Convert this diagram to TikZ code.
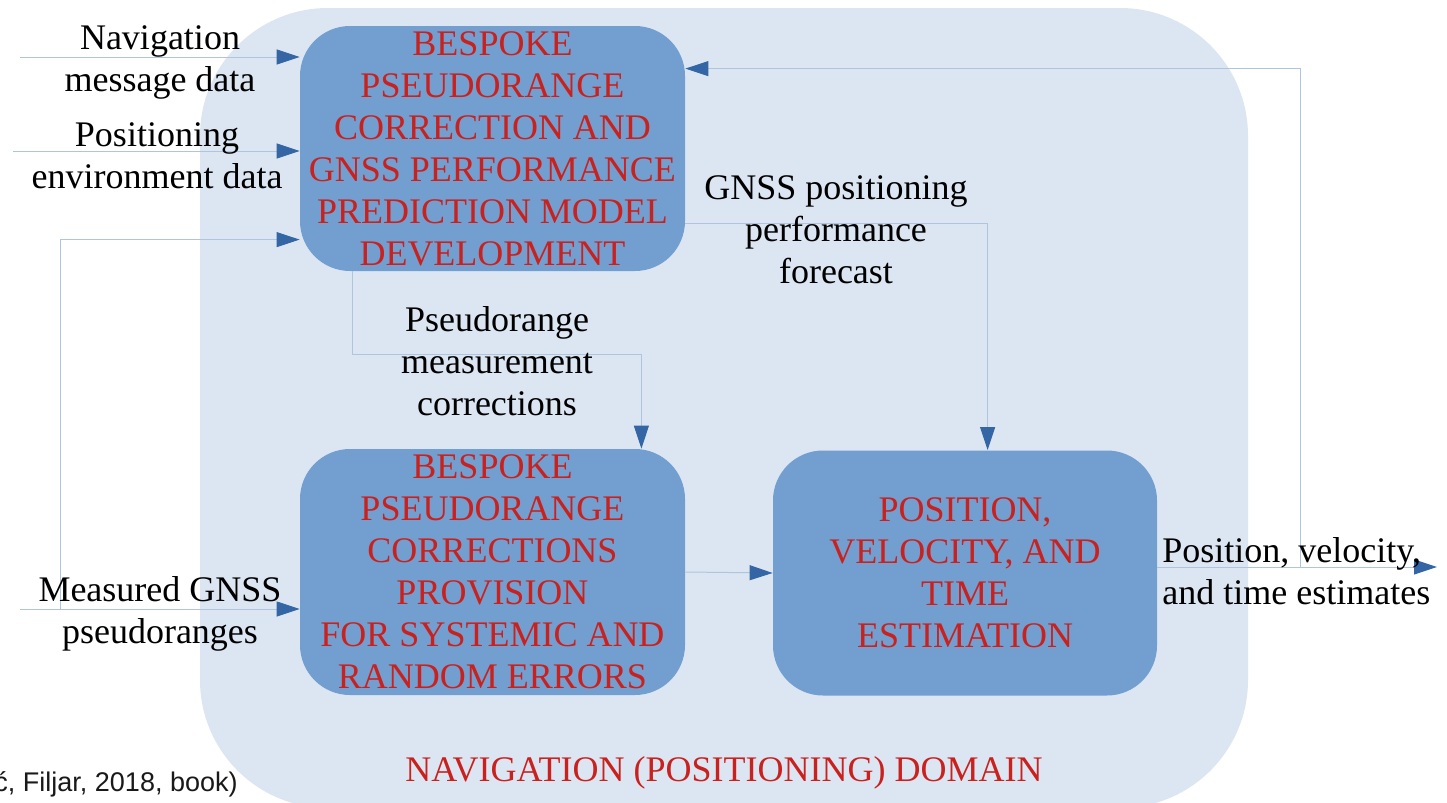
\documentclass[tikz,border=0pt]{standalone}
\usepackage{fontspec}
\setmainfont{Liberation Serif}
\newfontfamily\capfont{Liberation Sans}
\usetikzlibrary{arrows.meta,calc}
\definecolor{domfill}{HTML}{DCE6F2}
\definecolor{boxfill}{HTML}{729FCF}
\definecolor{redtxt}{HTML}{C9211E}
\definecolor{linecol}{HTML}{AFC4DD}
\definecolor{tipcol}{HTML}{3465A4}
\tikzset{
  procbox/.style={fill=boxfill, draw=none, rounded corners=25pt, align=center,
    text=redtxt, font=\fontsize{18}{21}\selectfont, inner sep=0pt},
  lbl/.style={align=center, text=black, font=\fontsize{18}{21}\selectfont, inner sep=0pt},
  conn/.style={draw=linecol, line width=0.5pt,
    -{Triangle[length=11.5pt,width=7.5pt,color=tipcol]}}
}
\begin{document}
\begin{tikzpicture}[x=0.5pt,y=-0.5pt]
\useasboundingbox (0,0) rectangle (1447,803);
\clip (0,0) rectangle (1447,803);
\fill[white] (0,0) rectangle (1447,803);
% domain
\node[fill=domfill, draw=none, rounded corners=64pt, minimum width=524pt, minimum height=400pt, inner sep=0pt] (dom) at (724,408) {};
% boxes (shapes only first, text via same nodes)
\node[procbox, minimum width=192.5pt, minimum height=122.5pt] (A) at (492.5,148.5)
  {BESPOKE\\PSEUDORANGE\\CORRECTION AND\\GNSS PERFORMANCE\\PREDICTION MODEL\\DEVELOPMENT};
\node[procbox, minimum width=192.5pt, minimum height=123pt] (B) at (492.5,572)
  {BESPOKE\\PSEUDORANGE\\CORRECTIONS\\PROVISION\\FOR SYSTEMIC AND\\RANDOM ERRORS};
\node[procbox, minimum width=192pt, minimum height=122.5pt] (C) at (965,573)
  {POSITION,\\VELOCITY, AND\\TIME\\ESTIMATION};
% connectors
\coordinate (nsrc) at (20,57);
\coordinate (psrc) at (13,151);
\coordinate (msrc) at (20,609);
\coordinate (out) at (1437,567);
\coordinate (br) at (1300,567);
\draw[conn] (nsrc) -- (nsrc -| A.west);
\draw[conn] (psrc) -- (psrc -| A.west);
\draw[conn] (msrc) -- (msrc -| B.west);
\draw[conn] ($(msrc)+(40,0)$) |- ($(A.north west)+(0,214)$);
\draw[conn] ($(A.south west)+(53,0)$) |- ($(B.north east)+(-44,-94)$) -- ($(B.north east)+(-44,0)$);
\draw[conn] ($(A.north east)+(0,198)$) -| ($(C.north west)+(215,0)$);
\draw[conn] (B.east) -- (C.west);
\draw[conn] (C.east |- out) -- (out);
\draw[conn] (br) |- ($(A.north east)+(0,43)$);
% labels
\node[lbl, text=redtxt] (domlbl) at (724,773) {NAVIGATION (POSITIONING) DOMAIN};
\node[lbl] (l1) at (160,62) {Navigation\\message data};
\node[lbl] (l2) at (157,156) {Positioning\\environment data};
\node[lbl] (l3) at (836,230) {GNSS positioning\\performance\\forecast};
\node[lbl] (l4) at (497,361) {Pseudorange\\measurement\\corrections};
\node[lbl] (l5) at (160,614) {Measured GNSS\\pseudoranges};
\node[lbl, align=left, anchor=west] (l6) at (1162,571) {Position, velocity,\\and time estimates};
\node[inner sep=0pt, anchor=east, font=\capfont\fontsize{13.5}{16}\selectfont, text=black!90] (cap) at (238,784) {ć, Filjar, 2018, book)};
\end{tikzpicture}
\end{document}
